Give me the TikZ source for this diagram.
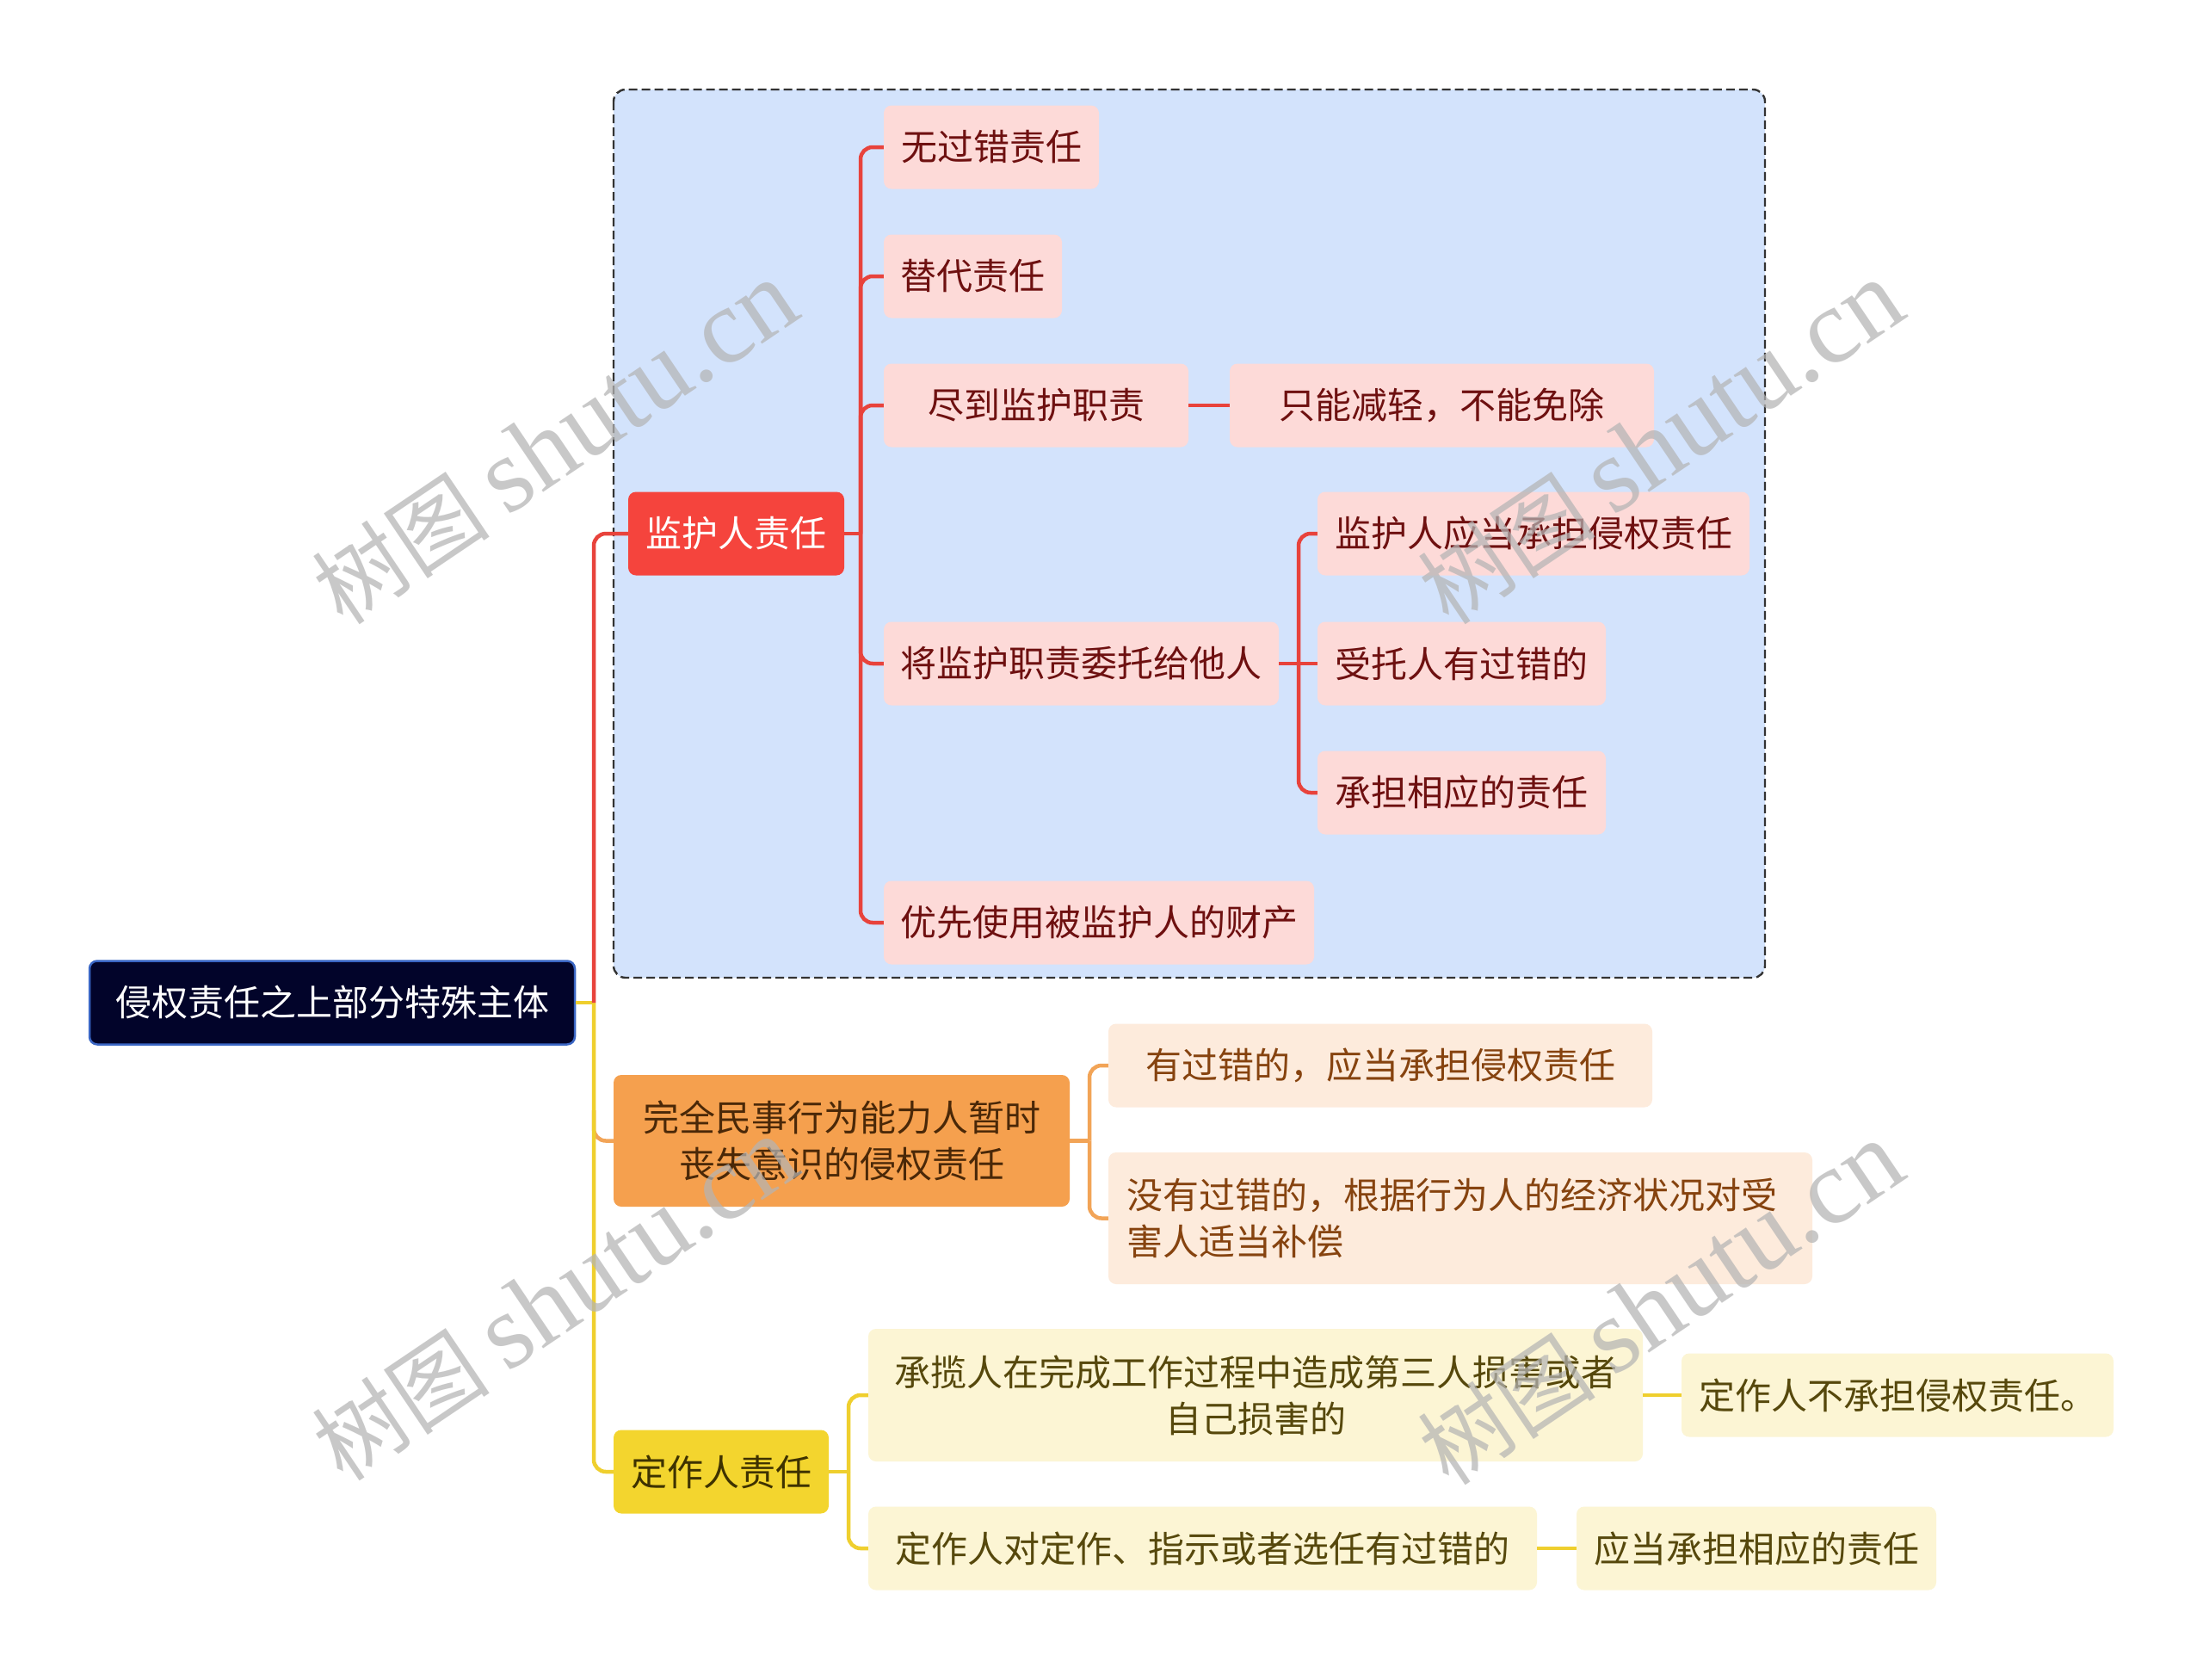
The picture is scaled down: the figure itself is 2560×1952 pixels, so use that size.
\documentclass[tikz,border=0pt]{standalone}
\usepackage{fontspec}
\setmainfont{Noto Sans CJK SC}
\newfontfamily\wmlatin{Liberation Serif}
\newfontfamily\wmcjk{Noto Sans CJK SC}
\definecolor{rootF}{HTML}{02042A}
\definecolor{rootB}{HTML}{3A66C4}
\definecolor{grpF}{HTML}{D3E3FC}
\definecolor{redF}{HTML}{F5443D}
\definecolor{redL}{HTML}{E8433C}
\definecolor{pinkF}{HTML}{FDDAD8}
\definecolor{pinkT}{HTML}{6E1010}
\definecolor{orF}{HTML}{F5A04E}
\definecolor{orL}{HTML}{F2A457}
\definecolor{orT}{HTML}{4A2808}
\definecolor{oF}{HTML}{FDEBDC}
\definecolor{oT}{HTML}{86430F}
\definecolor{yeF}{HTML}{F3D52E}
\definecolor{yeL}{HTML}{EFCF2E}
\definecolor{yeT}{HTML}{3E3200}
\definecolor{ycF}{HTML}{FCF5D4}
\definecolor{ycT}{HTML}{56480C}
\definecolor{wmC}{HTML}{B4B4B4}
\begin{document}
\begin{tikzpicture}[x=1pt,y={(0pt,-1pt)},
  box/.style={rounded corners=9pt, minimum height=97pt, inner sep=0pt,
    font=\fontsize{42pt}{54pt}\selectfont, align=center},
  rootbox/.style={box, fill=rootF, draw=rootB, line width=2.5pt, text=white},
  redbox/.style={box, fill=redF, text=white},
  pk/.style={box, fill=pinkF, text=pinkT},
  orbox/.style={box, fill=orF, text=orT, minimum height=153pt},
  oc/.style={box, fill=oF, text=oT},
  yebox/.style={box, fill=yeF, text=yeT},
  yc/.style={box, fill=ycF, text=ycT},
  rl/.style={draw=redL, line width=4.5pt, rounded corners=14pt},
  ol/.style={draw=orL, line width=4.5pt, rounded corners=14pt},
  yl/.style={draw=yeL, line width=4.5pt, rounded corners=14pt},
  wm/.style={text=wmC, opacity=0.72, rotate=34, font=\fontsize{124pt}{124pt}\selectfont}
]
\useasboundingbox (0,0) rectangle (2560,1952);
\fill[white] (0,0) rectangle (2560,1952);
% group frame
\draw[fill=grpF, draw=black!80, dash pattern=on 10pt off 5pt, line width=2.4pt, rounded corners=14pt]
  (713,104) rectangle (2051,1136);

% nodes
\node[rootbox, minimum width=564pt] (root) at (386,1165) {侵权责任之上部分特殊主体};
\node[redbox, minimum width=251pt] (jh) at (855.5,620) {监护人责任};
\node[pk, minimum width=250pt] (a1) at (1152,171) {无过错责任};
\node[pk, minimum width=207pt] (a2) at (1130.5,321) {替代责任};
\node[pk, minimum width=354pt] (a3) at (1204,471) {尽到监护职责};
\node[pk, minimum width=493pt] (a3b) at (1675.5,471) {只能减轻，不能免除};
\node[pk, minimum width=459pt] (a4) at (1256.5,771) {将监护职责委托给他人};
\node[pk, minimum width=502pt] (b1) at (1782,620) {监护人应当承担侵权责任};
\node[pk, minimum width=335pt] (b2) at (1698.5,771) {受托人有过错的};
\node[pk, minimum width=335pt] (b3) at (1698.5,921) {承担相应的责任};
\node[pk, minimum width=500pt] (a5) at (1277,1072) {优先使用被监护人的财产};

\node[orbox, minimum width=530pt] (o) at (978,1325.5) {完全民事行为能力人暂时\\丧失意识的侵权责任};
\node[oc, minimum width=632pt] (o1) at (1604,1238) {有过错的，应当承担侵权责任};
\node[oc, minimum height=153pt, text width=776pt, inner xsep=21pt, align=left] (o2) at (1697,1415.5)
  {没有过错的，根据行为人的经济状况对受\\害人适当补偿};

\node[yebox, minimum width=250pt] (d) at (838,1710) {定作人责任};
\node[yc, minimum width=900pt, minimum height=154pt] (d1) at (1459,1621) {承揽人在完成工作过程中造成第三人损害或者\\自己损害的};
\node[yc, minimum width=502pt] (d1b) at (2205,1621) {定作人不承担侵权责任。};
\node[yc, minimum width=777pt] (d2) at (1397.5,1799) {定作人对定作、指示或者选任有过错的};
\node[yc, minimum width=418pt] (d2b) at (2041,1799) {应当承担相应的责任};

% main trunk
\coordinate (tr) at (690,1165);
\coordinate (ot) at (690,1290);
\path[ol] (ot) |- (o.west);
\path[yl] (root.east) -- (tr);
\path[yl] (tr) |- (d.west);
\path[rl] (tr) |- (jh.west);

% red group
\coordinate (rj) at (1000,620);
\path[rl] (jh.east) -- (rj);
\foreach \c in {a1,a2,a3,a4,a5} { \path[rl] (rj) |- (\c.west); }
\path[rl] (a3.east) -- (a3b.west);
\coordinate (rj2) at (1509,771);
\path[rl] (a4.east) -- (b2.west);
\foreach \c in {b1,b3} { \path[rl] (rj2) |- (\c.west); }

% orange group
\coordinate (oj) at (1266,1325.5);
\path[ol] (o.east) -- (oj);
\foreach \c in {o1,o2} { \path[ol] (oj) |- (\c.west); }

% yellow group
\coordinate (yj) at (986,1710);
\path[yl] (d.east) -- (yj);
\foreach \c in {d1,d2} { \path[yl] (yj) |- (\c.west); }
\path[yl] (d1.east) -- (d1b.west);
\path[yl] (d2.east) -- (d2b.west);

% watermarks
\foreach \n/\p in {w1/{(645,515)}, w2/{(1930,515)}, w3/{(645,1510)}, w4/{(1930,1515)}} {
  \node[wm] (\n) at \p {{\wmcjk\fontsize{104pt}{104pt}\selectfont 树图}\,{\wmlatin shutu.cn}};
}
\end{tikzpicture}
\end{document}
